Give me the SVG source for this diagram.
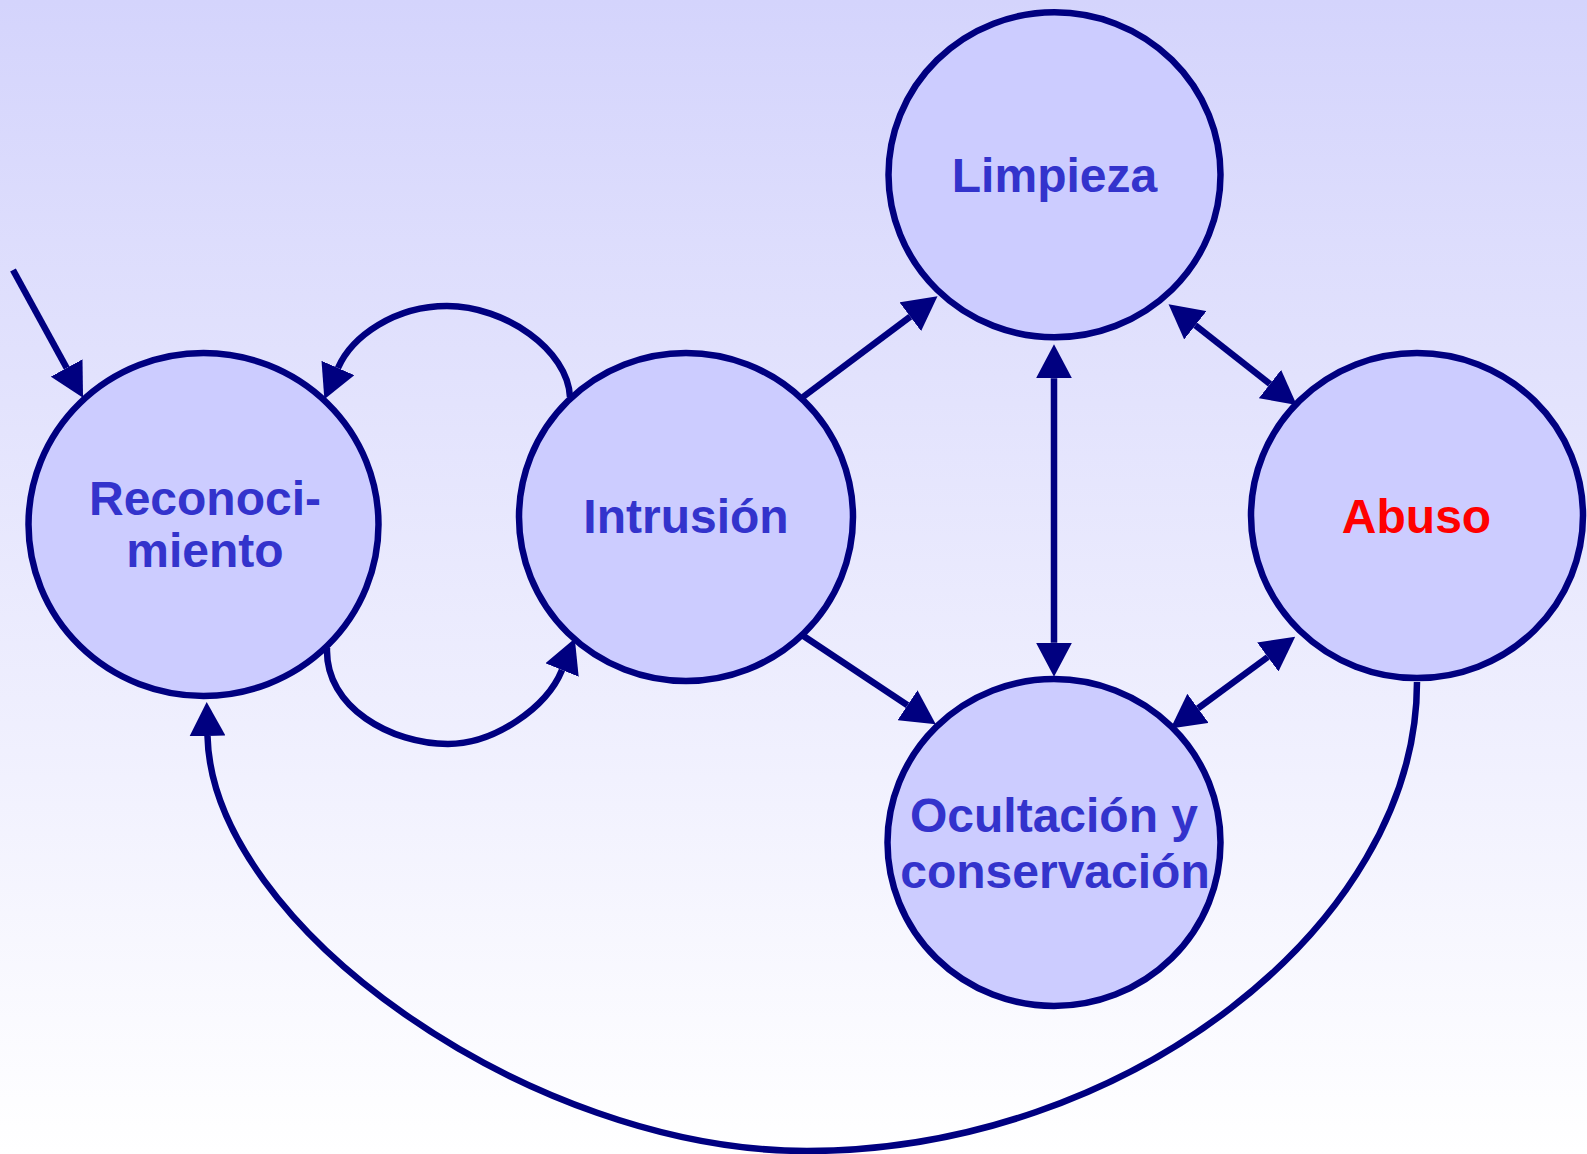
<svg xmlns="http://www.w3.org/2000/svg" width="1587" height="1154" viewBox="0 0 1587 1154">
  <defs>
    <linearGradient id="bg" x1="0" y1="0" x2="0" y2="1">
      <stop offset="0" stop-color="#d4d4fc"/>
      <stop offset="1" stop-color="#ffffff"/>
    </linearGradient>
    <marker id="arrow" viewBox="0 0 34 36" refX="0" refY="18" markerWidth="34" markerHeight="36" markerUnits="userSpaceOnUse" orient="auto-start-reverse">
      <path d="M0,0 L34,18 L0,36 z" fill="#000080"/>
    </marker>
    <style>
      .node ellipse { fill: #ccccff; stroke: #000080; stroke-width: 6.5; }
      .node text { font-family: "Liberation Sans", Arial, sans-serif; font-weight: bold; font-size: 48px; fill: #3333cc; text-anchor: middle; }
      .node text.alert { fill: #ff0000; }
      .edges path { fill: none; stroke: #000080; stroke-width: 6.5; }
      .fwd { marker-end: url(#arrow); }
      .both { marker-start: url(#arrow); marker-end: url(#arrow); }
    </style>
  </defs>

  <rect x="0" y="0" width="1587" height="1154" fill="url(#bg)"/>

  <g id="edges" class="edges">
    <!-- entry arrow -->
    <path class="fwd" d="M13,270 L66.7,368"/>
    <!-- Intrusión -> Reconocimiento (upper loop) -->
    <path class="fwd" d="M570,397 C568,350 505,306 447,306 C395,306 352,336 338,368"/>
    <!-- Reconocimiento -> Intrusión (lower loop) -->
    <path class="fwd" d="M327,648 C325,708 392,744 448,744 C495,744 547,707 562,670"/>
    <!-- Intrusión -> Limpieza -->
    <path class="fwd" d="M803,397 L910.3,316.7"/>
    <!-- Intrusión -> Ocultación -->
    <path class="fwd" d="M802,635 L907.5,705.3"/>
    <!-- Limpieza <-> Ocultación -->
    <path class="both" d="M1054,378.3 L1054,642.7"/>
    <!-- Limpieza <-> Abuso -->
    <path class="both" d="M1195.3,325.3 L1270,384"/>
    <!-- Abuso <-> Ocultación -->
    <path class="both" d="M1198,708.3 L1267.8,657"/>
    <!-- Abuso -> Reconocimiento -->
    <path class="fwd" d="M1417,682 C1417,926 1124,1151 807,1151 C530,1151 212,925 207.5,736"/>
  </g>

  <g id="reconocimiento" class="node">
    <ellipse cx="203.5" cy="524.5" rx="175" ry="171.5"/>
    <text x="205" y="515">Reconoci-</text>
    <text x="205" y="567">miento</text>
  </g>

  <g id="intrusion" class="node">
    <ellipse cx="686" cy="517" rx="167" ry="164"/>
    <text x="686" y="533">Intrusión</text>
  </g>

  <g id="limpieza" class="node">
    <ellipse cx="1054.5" cy="174.8" rx="166" ry="162.5"/>
    <text x="1054.5" y="192">Limpieza</text>
  </g>

  <g id="abuso" class="node">
    <ellipse cx="1417" cy="515.6" rx="166" ry="162.5"/>
    <text class="alert" x="1416.5" y="533">Abuso</text>
  </g>

  <g id="ocultacion" class="node">
    <ellipse cx="1054" cy="842.5" rx="166.5" ry="163.5"/>
    <text x="1054" y="832">Ocultación y</text>
    <text x="1055" y="888">conservación</text>
  </g>
</svg>
